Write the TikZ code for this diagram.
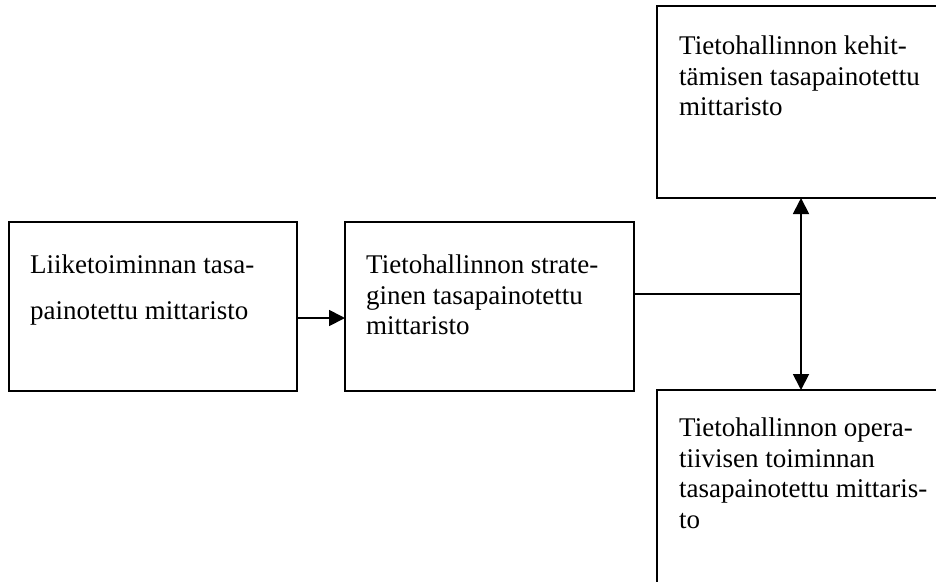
\documentclass[tikz,border=0pt]{standalone}
\usepackage{fontspec}
\setmainfont{Liberation Serif}
\usetikzlibrary{arrows.meta,calc}
\begin{document}
\begin{tikzpicture}[x=1pt,y=-1pt,
  box/.style={draw,line width=1.8pt,rectangle,inner sep=0pt,outer sep=0pt,anchor=north west},
  txt/.style={anchor=north west,inner sep=0pt,align=left,font=\fontsize{27}{30.5}\selectfont},
  conn/.style={line width=1.8pt},
  tri/.style={line width=1.8pt,-{Triangle[length=16pt,width=16pt]}}]
\useasboundingbox (0,0) rectangle (936,581);
\clip (0,0) rectangle (936,581);
\node[box,minimum width=288pt,minimum height=169pt] (b1) at (9,222) {};
\node[box,minimum width=289pt,minimum height=169pt] (b2) at (345,222) {};
\node[box,minimum width=400pt,minimum height=192pt] (b3) at (657,6) {};
\node[box,minimum width=400pt,minimum height=300pt] (b4) at (657,390) {};
\node[txt,font=\fontsize{27}{46}\selectfont] (t1) at (30,255) {Liiketoiminnan tasa-\\painotettu mittaristo};
\node[txt] (t2) at (366,255) {Tietohallinnon strate-\\ginen tasapainotettu\\mittaristo};
\node[txt] (t3) at (679,36) {Tietohallinnon kehit-\\tämisen tasapainotettu\\mittaristo};
\node[txt] (t4) at (679,418) {Tietohallinnon opera-\\tiivisen toiminnan\\tasapainotettu mittaris-\\to};
\coordinate (a) at (0,318);
\coordinate (j) at (801,294);
\draw[tri] (a -| b1.east) -- (a -| b2.west);
\draw[conn] (j -| b2.east) -- (j);
\draw[tri] (j) -- (j |- b3.south);
\draw[tri] (j) -- (j |- b4.north);
\end{tikzpicture}
\end{document}
